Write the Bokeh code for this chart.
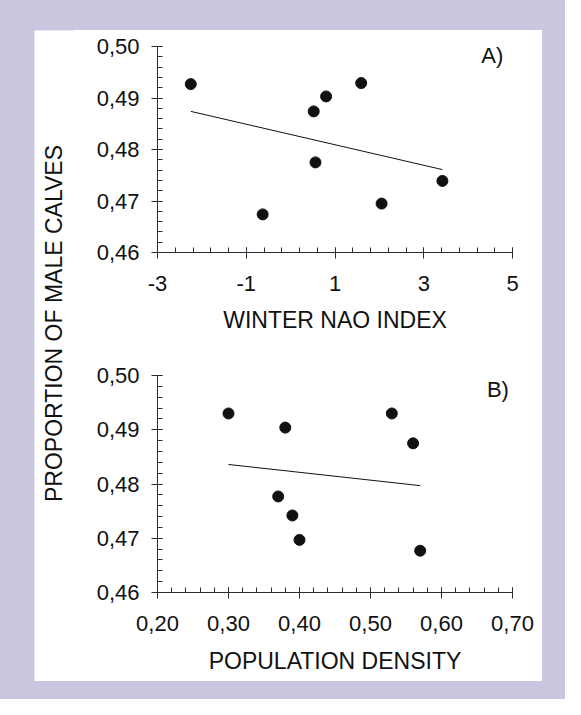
from bokeh.plotting import figure
from bokeh.layouts import row, column
from bokeh.models import FixedTicker, Range1d, Label
from bokeh.embed import file_html
from bokeh.resources import INLINE

# ---- data ----
nao_index = [-2.25, -0.63, 0.52, 0.56, 0.80, 1.59, 2.05, 3.42]
prop_a = [0.4927, 0.4674, 0.4874, 0.4775, 0.4903, 0.4929, 0.4695, 0.4739]

density = [0.30, 0.38, 0.37, 0.39, 0.40, 0.53, 0.56, 0.57]
prop_b = [0.4930, 0.4904, 0.4777, 0.4742, 0.4697, 0.4930, 0.4875, 0.4677]

fit_a_x = [-2.25, 3.42]
fit_a_y = [0.4874, 0.4761]
fit_b_x = [0.30, 0.57]
fit_b_y = [0.4836, 0.4797]

y_ticks = [0.46, 0.47, 0.48, 0.49, 0.50]
y_tick_labels = ["0,46", "0,47", "0,48", "0,49", "0,50"]
nao_ticks = [-3, -1, 1, 3, 5]
nao_tick_labels = ["-3", "-1", "1", "3", "5"]
dens_ticks = [0.20, 0.30, 0.40, 0.50, 0.60, 0.70]
dens_tick_labels = ["0,20", "0,30", "0,40", "0,50", "0,60", "0,70"]

y_minor = [round(0.46 + 0.002 * i, 4) for i in range(21)]
nao_minor = [round(-3 + 0.4 * i, 4) for i in range(21)]
dens_minor = [round(0.20 + 0.02 * i, 4) for i in range(26)]

FONT = "Liberation Sans"
INK = "#111111"
AXIS = "#2b2b35"
LAV = "#c9c7df"


def style_axes(p, x_ticks, x_labels, x_minor, xlabel, label_standoff):
    xa = p.xaxis[0]
    ya = p.yaxis[0]
    xa.ticker = FixedTicker(ticks=x_ticks, minor_ticks=x_minor)
    xa.major_label_overrides = dict(zip(x_ticks, x_labels))
    ya.ticker = FixedTicker(ticks=y_ticks, minor_ticks=y_minor)
    ya.major_label_overrides = dict(zip(y_ticks, y_tick_labels))
    for ax in (xa, ya):
        ax.axis_line_color = AXIS
        ax.axis_line_width = 1
        ax.major_tick_line_color = AXIS
        ax.minor_tick_line_color = AXIS
        ax.major_tick_in = 5
        ax.major_tick_out = 6
        ax.minor_tick_in = 5
        ax.minor_tick_out = 0
        ax.major_label_text_font = FONT
        ax.major_label_text_font_size = "22px"
        ax.major_label_text_color = INK
    xa.major_label_standoff = 17
    ya.major_label_standoff = 12
    xa.axis_label = xlabel
    xa.axis_label_text_font = FONT
    xa.axis_label_text_font_size = "23px"
    xa.axis_label_text_font_style = "normal"
    xa.axis_label_text_color = INK
    xa.axis_label_standoff = label_standoff
    p.grid.visible = False
    p.outline_line_color = None
    p.background_fill_color = "white"
    p.border_fill_color = "white"


# ---- panel A ----
p1 = figure(width=468, height=324, x_range=Range1d(-3, 5), y_range=Range1d(0.46, 0.50),
            output_backend="svg", toolbar_location=None,
            min_border_left=83, min_border_right=28, min_border_top=16, min_border_bottom=102)
p1.line(fit_a_x, fit_a_y, line_color=INK, line_width=1)
p1.scatter(nao_index, prop_a, size=11, fill_color=INK, line_color=INK)
style_axes(p1, nao_ticks, nao_tick_labels, nao_minor, "WINTER NAO INDEX", 13)
p1.add_layout(Label(x=4.545, y=0.4983, text="A)", text_font=FONT, text_font_size="22px",
                    text_color=INK, text_align="center", text_baseline="middle"))

# ---- panel B ----
p2 = figure(width=468, height=327, x_range=Range1d(0.20, 0.70), y_range=Range1d(0.46, 0.50),
            output_backend="svg", toolbar_location=None,
            min_border_left=82, min_border_right=30, min_border_top=21, min_border_bottom=89)
p2.line(fit_b_x, fit_b_y, line_color=INK, line_width=1)
p2.scatter(density, prop_b, size=11, fill_color=INK, line_color=INK)
style_axes(p2, dens_ticks, dens_tick_labels, dens_minor, "POPULATION DENSITY", 14)
p2.add_layout(Label(x=0.6795, y=0.4974, text="B)", text_font=FONT, text_font_size="22px",
                    text_color=INK, text_align="center", text_baseline="middle"))

# ---- shared y title ----
lf = figure(width=40, height=651, x_range=Range1d(0, 40), y_range=Range1d(0, 651),
            output_backend="svg", toolbar_location=None, x_axis_type=None, y_axis_type=None,
            min_border=0, margin=(30, 0, 18, 34))
lf.grid.visible = False
lf.outline_line_color = None
lf.background_fill_color = "white"
lf.border_fill_color = "white"
lf.add_layout(Label(x=19.7, y=358, text="PROPORTION OF MALE CALVES", angle=90, angle_units="deg",
                    text_font=FONT, text_font_size="23px", text_color=INK,
                    text_align="center", text_baseline="middle"))

col = column(p1, p2, spacing=0, margin=(30, 23, 18, 0), styles={"background-color": "white"})
layout = row(lf, col, spacing=0, styles={"background-color": LAV})

open("out.html", "w").write(file_html(layout, INLINE))
